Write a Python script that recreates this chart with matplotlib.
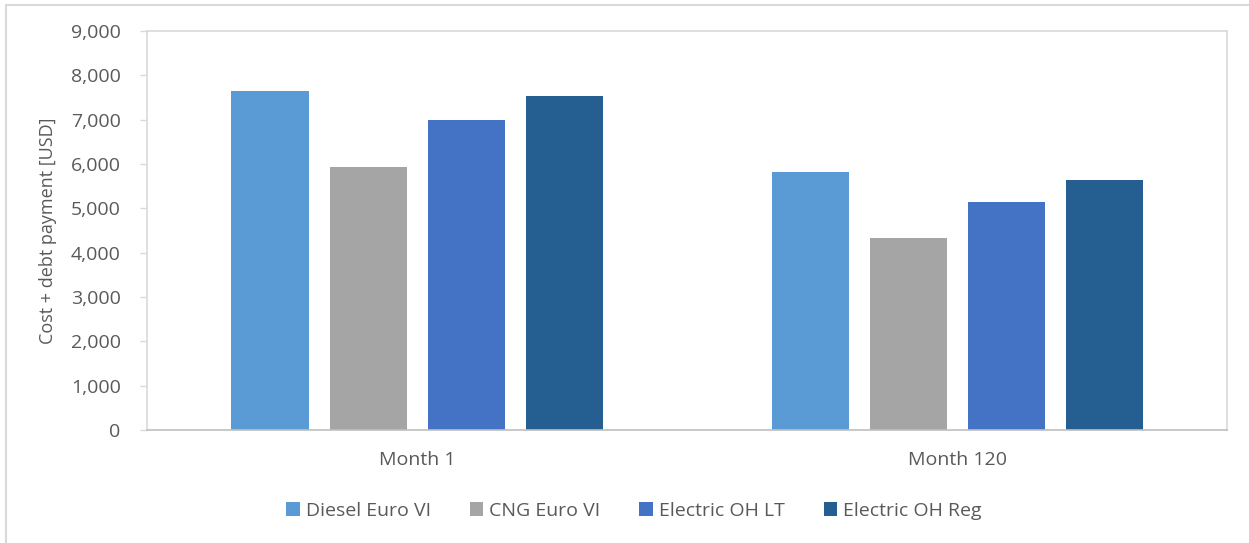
import matplotlib.pyplot as plt
import numpy as np
from matplotlib.patches import Rectangle
from matplotlib.ticker import FuncFormatter

categories = ["Month 1", "Month 120"]
series = ["Diesel Euro VI", "CNG Euro VI", "Electric OH LT", "Electric OH Reg"]
diesel = [7640, 5815]
cng = [5940, 4330]
oh_lt = [6995, 5135]
oh_reg = [7535, 5640]
colors = ["#5B9BD5", "#A5A5A5", "#4472C4", "#255E91"]

plt.rcParams["font.family"] = ["Open Sans", "DejaVu Sans"]
text_col = "#595959"

fig = plt.figure(figsize=(12.49, 5.43), dpi=100)
W, H = 1249, 543
ax = fig.add_axes([147 / W, 1 - 430 / H, (1227 - 147) / W, (430 - 31) / H])

# outer chart border
fig.patches.append(Rectangle((6 / W, -0.1), 1.2, 1 - 5 / H + 0.1, transform=fig.transFigure,
                             fill=False, edgecolor="#D9D9D9", linewidth=1.5))

x = np.arange(len(categories))
width = 77 / 540
step = 98 / 540
for i, (vals, name) in enumerate(zip([diesel, cng, oh_lt, oh_reg], series)):
    ax.bar(x + (i - 1.5) * step, vals, width, color=colors[i], label=name)

ax.set_xlim(-0.5, 1.5)
ax.set_ylim(0, 9000)
ax.set_yticks(range(0, 9001, 1000))
ax.yaxis.set_major_formatter(FuncFormatter(lambda v, p: f"{int(v):,}"))
ax.set_xticks(x)
ax.set_xticklabels(categories)
ax.tick_params(axis="x", length=0, pad=15, labelsize=14, labelcolor=text_col)
ax.tick_params(axis="y", length=5, width=1, color="#D9D9D9", pad=14, labelsize=14, labelcolor=text_col)
for s in ax.spines.values():
    s.set_color("#D9D9D9")
    s.set_linewidth(1.2)
ax.spines["bottom"].set_color("#BFBFBF")

ax.set_ylabel("Cost + debt payment [USD]", fontsize=13, color=text_col, labelpad=10)

fig.legend(loc="center", bbox_to_anchor=(634 / W, 1 - 511 / H), ncol=4, frameon=False,
           fontsize=14, handlelength=0.7, handleheight=0.7, handletextpad=0.3,
           columnspacing=2.0, labelcolor=text_col)

fig.savefig("out.png", dpi=100, facecolor="white")
